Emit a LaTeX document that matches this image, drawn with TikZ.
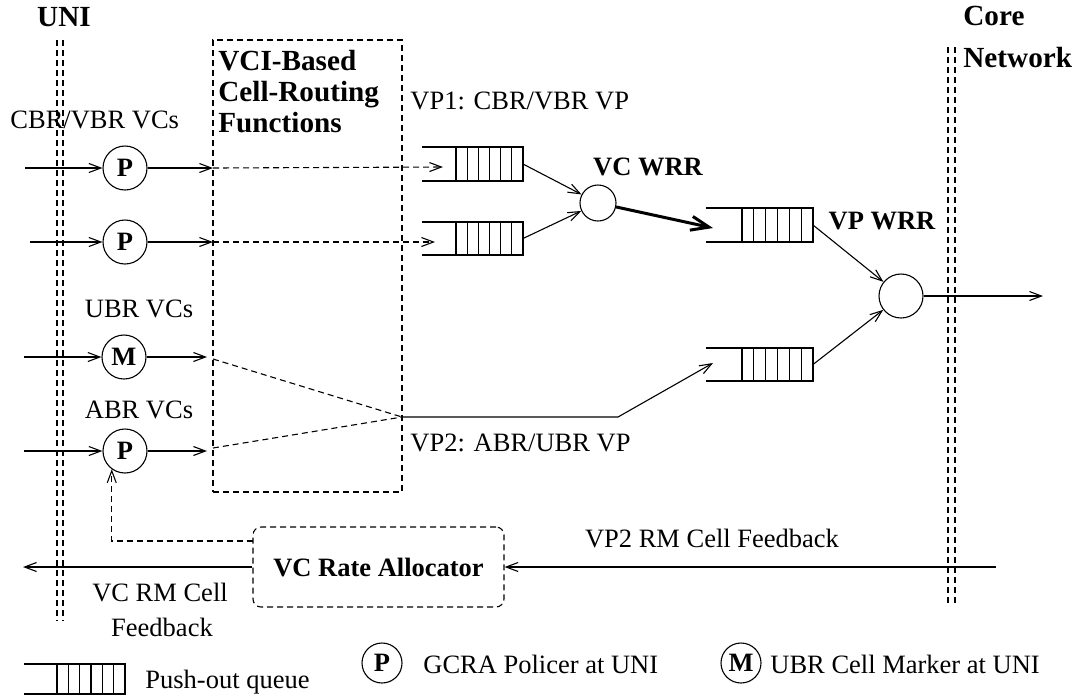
\documentclass[tikz,border=0pt]{standalone}
\usepackage{fontspec}
\setmainfont{Liberation Serif}
\usetikzlibrary{arrows.meta,calc}
\newcommand\myqueue[6]{%
  \node[draw,ln,inner sep=0pt,outer sep=0pt,anchor=north west,
        minimum width={(#4-#3)*0.5pt},minimum height={(#6-#5)*0.5pt}] (#1) at (#3,#5) {};
  \draw[ln] (#2,#5) -- (#1.north west) (#2,#6) -- (#1.south west);
  \foreach \k in {1,...,5}
    \draw[ln] ($(#1.north west)!\k/6!(#1.north east)$) -- ($(#1.south west)!\k/6!(#1.south east)$);
}
\begin{document}
\begin{tikzpicture}[x=0.5pt,y=-0.5pt,
  every node/.style={font=\fontsize{13.25}{15}\selectfont},
  ln/.style={line width=0.55pt},
  arr/.style={ln,-{Straight Barb[length=6pt,width=4.5pt]}},
  dsh/.style={ln,dash pattern=on 3pt off 2pt},
  dsharr/.style={dsh,-{Straight Barb[length=6pt,width=4.5pt]}},
  circ/.style={circle,draw,ln,minimum size=22pt,inner sep=0pt,font=\fontsize{13.25}{15}\selectfont\bfseries},
  lbl/.style={anchor=base west,inner sep=0pt},
  blbl/.style={lbl,font=\fontsize{13.25}{15}\selectfont\bfseries},
  hlbl/.style={lbl,font=\fontsize{14.6}{16}\selectfont\bfseries}
]
\path[use as bounding box] (0,0) rectangle (1081,698);

% interface lines
\draw[dsh] (57,40) -- (57,621);
\draw[dsh] (63,40) -- (63,621);
\draw[dsh] (948,47) -- (948,603);
\draw[dsh] (955,47) -- (955,603);
\node[hlbl,anchor=base] (uni) at (64,26) {UNI};
\node[hlbl] (core) at (963,25) {Core};
\node[hlbl] (net) at (963,67) {Network};

% VCI box
\node[draw,dsh,inner sep=0pt,outer sep=0pt,anchor=north west,minimum width=94.5pt,minimum height=226pt] (vci) at (213,40) {};
\node[hlbl] (t1) at (218,70) {VCI-Based};
\node[hlbl] (t2) at (218,101) {Cell-Routing};
\node[hlbl] (t3) at (218,132) {Functions};

% labels
\node[lbl] (vp1) at (410,109) {VP1: CBR/VBR VP};
\node[lbl] (cbr) at (10,128) {CBR/VBR VCs};
\node[lbl,anchor=base] (ubr) at (139,317) {UBR VCs};
\node[lbl,anchor=base] (abr) at (139,418) {ABR VCs};
\node[lbl] (vp2) at (410,451) {VP2: ABR/UBR VP};
\node[blbl,anchor=base] (vcwrr) at (648,175) {VC WRR};
\node[blbl,anchor=base] (vpwrr) at (882,229) {VP WRR};
\node[lbl,anchor=base] (vp2fb) at (712,547) {VP2 RM Cell Feedback};
\node[lbl,anchor=base] (vcfb1) at (160,601) {VC RM Cell};
\node[lbl,anchor=base] (vcfb2) at (162,636) {Feedback};

% policers
\node[circ] (p1) at (125,168) {P};
\node[circ] (p2) at (125,242) {P};
\node[circ] (m1) at (124,357) {M};
\node[circ] (p3) at (125,451) {P};

% queues
\myqueue{q1}{422}{456}{523}{147}{181}
\myqueue{q2}{422}{456}{523}{222}{255}
\myqueue{q3}{706}{742}{813}{208}{242}
\myqueue{q4}{706}{742}{813}{348}{381}

% schedulers
\node[circle,draw,ln,minimum size=18pt,inner sep=0pt] (vc) at (598,203) {};
\node[circle,draw,ln,minimum size=22pt,inner sep=0pt] (vp) at (901,296) {};

% coordinates
\coordinate (in1) at (25,168);
\coordinate (in2) at (30,242);
\coordinate (in3) at (24,357);
\coordinate (in4) at (24,451);
\coordinate (b1) at (213,168);
\coordinate (b2) at (213,242);
\coordinate (b3) at (207,357);
\coordinate (b4) at (207,451);
\coordinate (d3) at (213,359);
\coordinate (d4) at (213,448);
\coordinate (q1in) at (443,167);
\coordinate (q2in) at (435,242);
\coordinate (q3in) at (713,228);
\coordinate (q4in) at (713,363);
\coordinate (mg) at (402,417);
\coordinate (bend) at (618,417);
\coordinate (out) at (1043,296);

% inputs
\draw[arr] (in1) -- (p1);
\draw[arr] (in2) -- (p2);
\draw[arr] (in3) -- (m1);
\draw[arr] (in4) -- (p3);
\draw[arr] (p1) -- (b1);
\draw[arr] (p2) -- (b2);
\draw[arr] (m1) -- (b3);
\draw[arr] (p3) -- (b4);
\draw[dsharr] (b1) -- (q1in);
\draw[dsharr] (b2) -- (q2in);
\draw[dsh] (d3) -- (mg);
\draw[dsh] (d4) -- (mg);
\draw[arr] (mg) -- (bend) -- (q4in);

% schedulers connections
\draw[arr] (q1.east) -- (vc);
\draw[arr] (q2.east) -- (vc);
\draw[line width=1.5pt,-{Straight Barb[length=9pt,width=7pt]}] (vc) -- (q3in);
\draw[arr] (q3.east) -- (vp);
\draw[arr] (q4.east) -- (vp);
\draw[arr] (vp) -- (out);

% feedback
\node[draw,dsh,rounded corners=4pt,inner sep=0pt,minimum width=125.5pt,minimum height=40pt,
      font=\fontsize{13.25}{15}\selectfont\bfseries] (vcra) at (378.5,567) {VC Rate Allocator};
\coordinate (cf) at (996,567);
\coordinate (lf) at (23,567);
\coordinate (fb) at (253,541);
\draw[arr] (cf) -- (vcra.east);
\draw[arr] (vcra.west) -- (lf);
\draw[dsharr] (fb) -| (p3.234);

% legend
\myqueue{lq}{24}{57}{125}{664}{694}
\node[lbl] (lqt) at (145,688) {Push-out queue};
\node[circ,minimum size=20pt] (lp) at (382,663) {P};
\node[lbl] (lpt) at (423,673) {GCRA Policer at UNI};
\node[circ,minimum size=20pt] (lm) at (741,663) {M};
\node[lbl] (lmt) at (770,673) {UBR Cell Marker at UNI};
\end{tikzpicture}
\end{document}
